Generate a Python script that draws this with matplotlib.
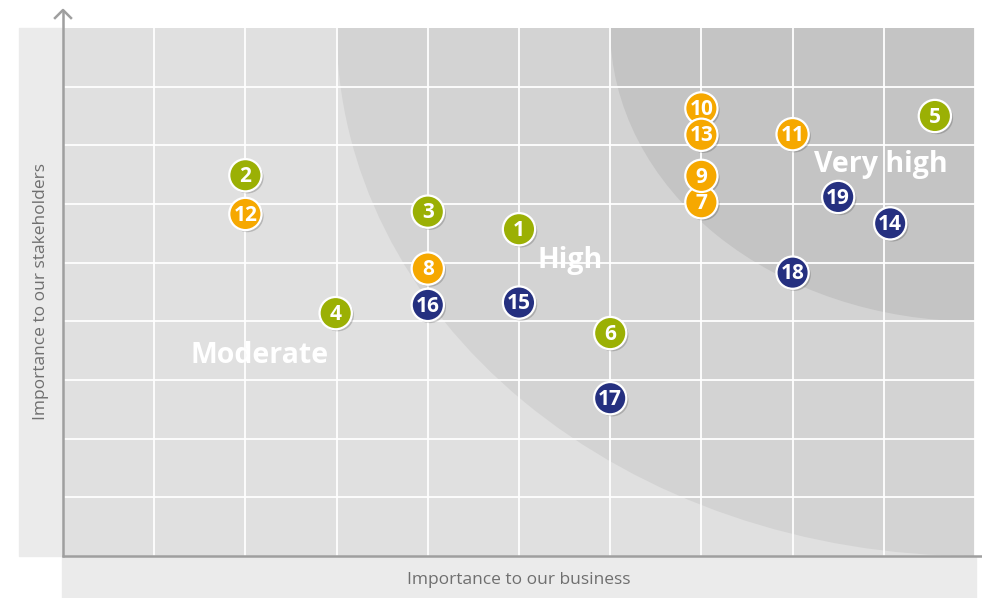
import matplotlib
matplotlib.use("Agg")
import matplotlib.pyplot as plt
from matplotlib.patches import Ellipse, Rectangle
from matplotlib.lines import Line2D
import matplotlib.patheffects as pe

# ---- data ----
ids = ["1", "2", "3", "4", "5", "6", "7", "8", "9", "10",
       "11", "12", "13", "14", "15", "16", "17", "18", "19"]
business = [5, 2, 4, 2.99, 9.56, 6, 7, 4, 7, 7,
            8, 2, 7, 9.07, 5, 4, 6, 8, 8.5]
stakeholders = [5.57, 6.49, 5.87, 4.14, 7.50, 3.80, 6.03, 4.90, 6.48, 7.63,
                7.19, 5.83, 7.18, 5.67, 4.32, 4.28, 2.69, 4.83, 6.12]
groups = ["g", "g", "g", "g", "g", "g", "o", "o", "o", "o",
          "o", "o", "o", "n", "n", "n", "n", "n", "n"]
zones = ["Moderate", "High", "Very high"]
x_label = "Importance to our business"
y_label = "Importance to our stakeholders"

colors = {"g": "#9bb004", "o": "#f6a800", "n": "#253080"}

W, H = 982, 598
fig = plt.figure(figsize=(W / 100, H / 100), dpi=100)

def fx(px):
    return px / W

def fy(py):
    return 1 - py / H

# background panels
fig.patches.append(Rectangle((fx(19), fy(556)), fx(62) - fx(19), fy(28) - fy(556),
                             transform=fig.transFigure, color="#ebebeb", zorder=0))
fig.patches.append(Rectangle((fx(62), fy(598)), fx(976) - fx(62), fy(556) - fy(598),
                             transform=fig.transFigure, color="#ebebeb", zorder=0))

ax = fig.add_axes([fx(63), fy(556), fx(975) - fx(63), fy(28) - fy(556)])
ax.set_xlim(0, 10)
ax.set_ylim(0, 9)
ax.set_facecolor("#e0e0e0")
for s in ax.spines.values():
    s.set_visible(False)
ax.set_xticks([])
ax.set_yticks([])

# zones
ax.add_patch(Ellipse((10, 9), 14, 18, color="#d3d3d3", zorder=0.5, lw=0))
ax.add_patch(Ellipse((10, 9), 8, 10, color="#c4c4c4", zorder=0.6, lw=0))

# grid
for gx in range(1, 11):
    ax.axvline(gx, color="white", lw=1.3, zorder=1)
for gy in range(1, 9):
    ax.axhline(gy, color="white", lw=1.3, zorder=1)

# zone labels
zone_pos = [(2.15, 3.42), (5.56, 5.03), (8.97, 6.68)]
for name, (zx, zy) in zip(zones, zone_pos):
    ax.text(zx, zy, name, color="white", fontsize=20.5, fontweight="bold",
            family="Open Sans", ha="center", va="center", zorder=2)

# points
cols = [colors[g] for g in groups]
sc = ax.scatter(business, stakeholders, s=540, c=cols, edgecolors="white",
                linewidths=1.6, zorder=3, clip_on=False)
sc.set_path_effects([pe.SimplePatchShadow(offset=(1.5, -1.5), shadow_rgbFace="black", alpha=0.18),
                     pe.Normal()])
for t, x, y in zip(ids, business, stakeholders):
    ax.text(x, y - 0.02, t, color="white", fontsize=15, fontweight="bold",
            family="Open Sans", ha="center", va="center", zorder=4)

# axis lines
ac = "#9f9f9f"
fig.add_artist(Line2D([fx(63), fx(63)], [fy(557), fy(10)], transform=fig.transFigure,
                      color=ac, lw=1.8, solid_capstyle="butt"))
fig.add_artist(Line2D([fx(55), fx(63), fx(71)], [fy(18), fy(10), fy(18)],
                      transform=fig.transFigure, color=ac, lw=1.8))
fig.add_artist(Line2D([fx(62), fx(982)], [fy(556), fy(556)], transform=fig.transFigure,
                      color=ac, lw=1.8, solid_capstyle="butt"))

fig.text(fx(519), fy(580), x_label, color="#6f6f6f", fontsize=12.5, family="Open Sans",
         ha="center", va="center")
fig.text(fx(41), fy(292), y_label, color="#6f6f6f", fontsize=12.5, family="Open Sans",
         ha="center", va="center", rotation=90)

fig.savefig("out.png", dpi=100)
